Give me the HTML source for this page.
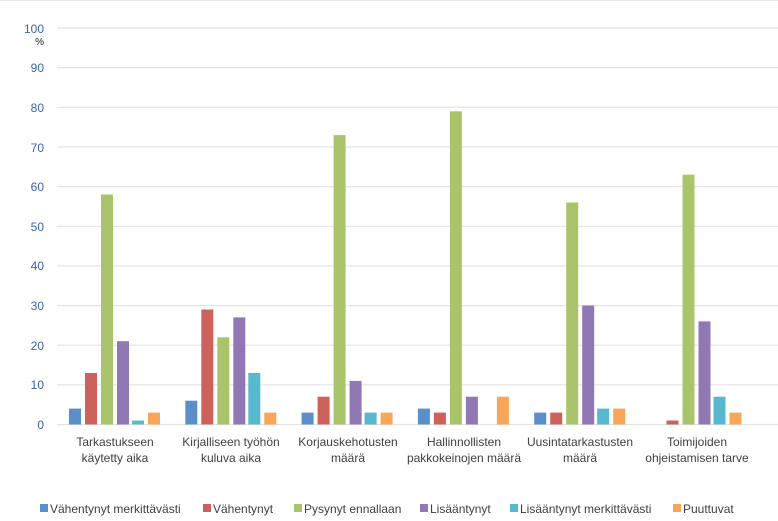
<!DOCTYPE html><html><head><style>body{margin:0;background:#fff}svg{display:block;font-family:"Liberation Sans",sans-serif}</style></head><body>
<svg width="778" height="521" viewBox="0 0 778 521">
<line x1="0" y1="0.5" x2="778" y2="0.5" stroke="#e8e8e8"/>
<g stroke="#e4e4e4" stroke-width="1.2">
<line x1="57" x2="778" y1="28" y2="28"/><line x1="57" x2="778" y1="67.6" y2="67.6"/><line x1="57" x2="778" y1="107.3" y2="107.3"/><line x1="57" x2="778" y1="147" y2="147"/><line x1="57" x2="778" y1="186.6" y2="186.6"/><line x1="57" x2="778" y1="226.3" y2="226.3"/><line x1="57" x2="778" y1="265.9" y2="265.9"/><line x1="57" x2="778" y1="305.6" y2="305.6"/><line x1="57" x2="778" y1="345.2" y2="345.2"/><line x1="57" x2="778" y1="384.9" y2="384.9"/><line x1="57" x2="778" y1="424.5" y2="424.5"/>
</g>
<g fill="#3b63a8" font-size="12" text-anchor="end">
<text x="44" y="33">100</text><text x="44" y="72">90</text><text x="44" y="112">80</text><text x="44" y="152">70</text><text x="44" y="191">60</text><text x="44" y="231">50</text><text x="44" y="270">40</text><text x="44" y="310">30</text><text x="44" y="350">20</text><text x="44" y="389">10</text><text x="44" y="429">0</text>
</g>
<text x="44" y="45" font-size="10" text-anchor="end" fill="#222">%</text>
<g>
<rect x="69" y="408.6" width="12" height="15.9" fill="#5b8fc9"/>
<rect x="85" y="373" width="12" height="51.5" fill="#cd625c"/>
<rect x="101" y="194.5" width="12" height="230" fill="#a9c46a"/>
<rect x="117" y="341.2" width="12" height="83.3" fill="#8f78b4"/>
<rect x="132" y="420.5" width="12" height="4" fill="#57b8d0"/>
<rect x="148" y="412.6" width="12" height="11.9" fill="#f9a65a"/>

<rect x="185.3" y="400.7" width="12" height="23.8" fill="#5b8fc9"/>
<rect x="201.3" y="309.5" width="12" height="115" fill="#cd625c"/>
<rect x="217.3" y="337.3" width="12" height="87.2" fill="#a9c46a"/>
<rect x="233.3" y="317.4" width="12" height="107.1" fill="#8f78b4"/>
<rect x="248.3" y="373" width="12" height="51.5" fill="#57b8d0"/>
<rect x="264.3" y="412.6" width="12" height="11.9" fill="#f9a65a"/>

<rect x="301.6" y="412.6" width="12" height="11.9" fill="#5b8fc9"/>
<rect x="317.6" y="396.7" width="12" height="27.8" fill="#cd625c"/>
<rect x="333.6" y="135.1" width="12" height="289.4" fill="#a9c46a"/>
<rect x="349.6" y="380.9" width="12" height="43.6" fill="#8f78b4"/>
<rect x="364.6" y="412.6" width="12" height="11.9" fill="#57b8d0"/>
<rect x="380.6" y="412.6" width="12" height="11.9" fill="#f9a65a"/>

<rect x="417.9" y="408.6" width="12" height="15.9" fill="#5b8fc9"/>
<rect x="433.9" y="412.6" width="12" height="11.9" fill="#cd625c"/>
<rect x="449.9" y="111.3" width="12" height="313.2" fill="#a9c46a"/>
<rect x="465.9" y="396.7" width="12" height="27.8" fill="#8f78b4"/>
<rect x="496.9" y="396.7" width="12" height="27.8" fill="#f9a65a"/>

<rect x="534.2" y="412.6" width="12" height="11.9" fill="#5b8fc9"/>
<rect x="550.2" y="412.6" width="12" height="11.9" fill="#cd625c"/>
<rect x="566.2" y="202.5" width="12" height="222" fill="#a9c46a"/>
<rect x="582.2" y="305.5" width="12" height="119" fill="#8f78b4"/>
<rect x="597.2" y="408.6" width="12" height="15.9" fill="#57b8d0"/>
<rect x="613.2" y="408.6" width="12" height="15.9" fill="#f9a65a"/>

<rect x="666.5" y="420.5" width="12" height="4" fill="#cd625c"/>
<rect x="682.5" y="174.7" width="12" height="249.8" fill="#a9c46a"/>
<rect x="698.5" y="321.4" width="12" height="103.1" fill="#8f78b4"/>
<rect x="713.5" y="396.7" width="12" height="27.8" fill="#57b8d0"/>
<rect x="729.5" y="412.6" width="12" height="11.9" fill="#f9a65a"/>
</g>
<g fill="#404040" font-size="12" text-anchor="middle">
<text x="115" y="446">Tarkastukseen</text><text x="115" y="462">käytetty aika</text>
<text x="231" y="446">Kirjalliseen työhön</text><text x="231" y="462">kuluva aika</text>
<text x="348" y="446">Korjauskehotusten</text><text x="348" y="462">määrä</text>
<text x="464" y="446">Hallinnollisten</text><text x="464" y="462">pakkokeinojen määrä</text>
<text x="580" y="446">Uusintatarkastusten</text><text x="580" y="462">määrä</text>
<text x="697" y="446">Toimijoiden</text><text x="697" y="462">ohjeistamisen tarve</text>
</g>
<g font-size="12" fill="#404040">
<rect x="40" y="504" width="8" height="8" fill="#5b8fc9"/><text x="50" y="513">Vähentynyt merkittävästi</text>
<rect x="203" y="504" width="8" height="8" fill="#cd625c"/><text x="213" y="513">Vähentynyt</text>
<rect x="294" y="504" width="8" height="8" fill="#a9c46a"/><text x="304" y="513">Pysynyt ennallaan</text>
<rect x="420" y="504" width="8" height="8" fill="#8f78b4"/><text x="430" y="513">Lisääntynyt</text>
<rect x="510" y="504" width="8" height="8" fill="#57b8d0"/><text x="520" y="513">Lisääntynyt merkittävästi</text>
<rect x="673" y="504" width="8" height="8" fill="#f9a65a"/><text x="683" y="513">Puuttuvat</text>
</g>
</svg></body></html>
